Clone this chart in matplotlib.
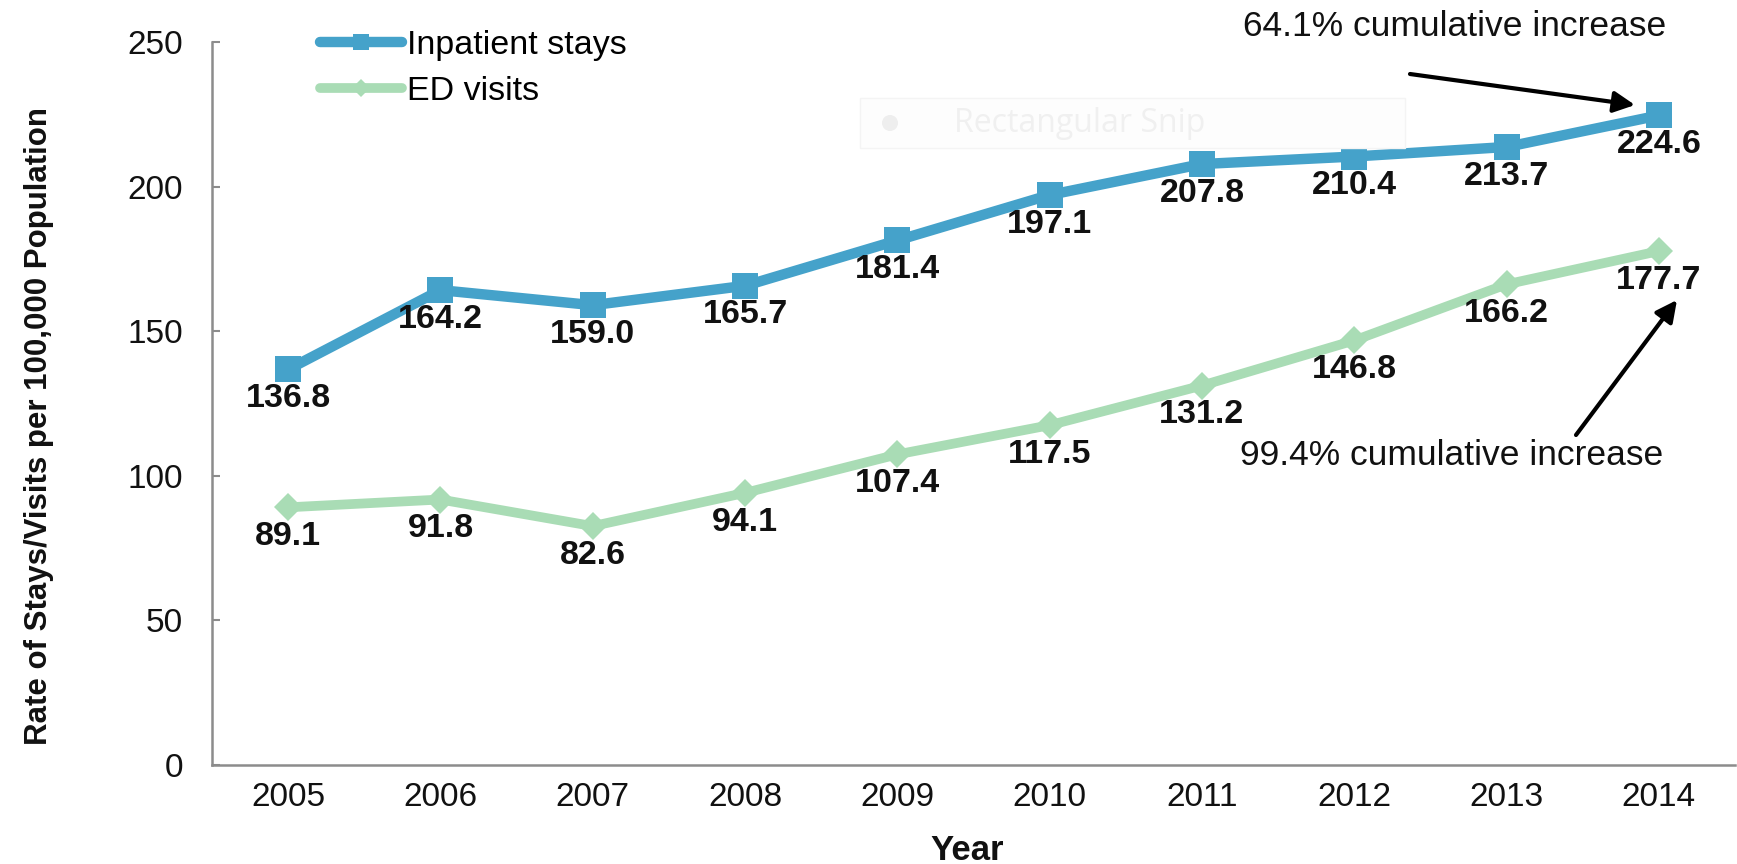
import matplotlib
matplotlib.use("Agg")
import matplotlib.pyplot as plt
from matplotlib.patches import Rectangle, Circle
from matplotlib.lines import Line2D

# data
years = [2005, 2006, 2007, 2008, 2009, 2010, 2011, 2012, 2013, 2014]
inpatient = [136.8, 164.2, 159.0, 165.7, 181.4, 197.1, 207.8, 210.4, 213.7, 224.6]
ed_visits = [89.1, 91.8, 82.6, 94.1, 107.4, 117.5, 131.2, 146.8, 166.2, 177.7]
y_ticks = [0, 50, 100, 150, 200, 250]

blue = '#45A2CA'
green = '#A9DCB5'

plt.rcParams['font.family'] = ['Liberation Sans', 'DejaVu Sans']

W, H = 1737, 864
fig = plt.figure(figsize=(W / 100, H / 100), dpi=100)
ax = fig.add_axes([212 / W, 1 - 765 / H, 1523 / W, 723 / H])

ax.plot(years, inpatient, color=blue, lw=7.5, marker='s', ms=19, mew=0,
        solid_capstyle='round', zorder=3)
ax.plot(years, ed_visits, color=green, lw=7, marker='D', ms=14.5, mew=0,
        solid_capstyle='round', zorder=3)

# data labels under each point
for x, v in zip(years, inpatient):
    ax.annotate(f'{v:.1f}', (x, v), xytext=(0, -21), textcoords='offset points',
                ha='center', va='center', fontsize=24.5, fontweight='bold', color='#111111')
for x, v in zip(years, ed_visits):
    ax.annotate(f'{v:.1f}', (x, v), xytext=(0, -21), textcoords='offset points',
                ha='center', va='center', fontsize=24.5, fontweight='bold', color='#111111')

ax.set_xlim(2004.5, 2014.5)
ax.set_ylim(0, 250)
ax.set_xticks(years)
ax.set_yticks(y_ticks)
ax.tick_params(axis='x', length=0, pad=12, labelsize=24, labelcolor='#111111')
ax.tick_params(axis='y', direction='in', length=6, width=1.5, color='#8c8c8c',
               pad=21, labelsize=24, labelcolor='#111111')
for s in ['top', 'right']:
    ax.spines[s].set_visible(False)
for s in ['left', 'bottom']:
    ax.spines[s].set_color('#8c8c8c')
    ax.spines[s].set_linewidth(1.8)

# legend with thick lines and small markers
h1 = Line2D([], [], color=blue, lw=7.5, marker='s', ms=11, mew=0, solid_capstyle='round')
h2 = Line2D([], [], color=green, lw=7, marker='D', ms=9, mew=0, solid_capstyle='round')
fig.legend([h1, h2], ['Inpatient stays', 'ED visits'], loc='upper left',
           bbox_to_anchor=(320 / W, 1 - 30 / H), frameon=False, fontsize=24.5,
           handlelength=2.4, handletextpad=0.15, labelspacing=0.45, borderpad=0,
           borderaxespad=0)

# faint screenshot-tool overlay left in the original image
fig.patches.append(Rectangle((860 / W, 1 - 148 / H), 545 / W, 50 / H, transform=fig.transFigure,
                             facecolor='#fdfdfd', edgecolor='#f4f4f4', lw=1, zorder=0))
fig.patches.append(Circle((8.9, (H - 123) / 100), 0.08, transform=fig.dpi_scale_trans,
                          facecolor='#eeeeee', edgecolor='none', zorder=0))
fig.add_artist(Line2D([925 / W, 925 / W], [1 - 146 / H, 1 - 100 / H], color='#f4f4f4', lw=1,
                      transform=fig.transFigure, zorder=0))
fig.text(954 / W, 1 - 124 / H, 'Rectangular Snip', fontsize=23, color='#f0f0f0',
         ha='left', va='center', family=['Open Sans', 'DejaVu Sans'], zorder=0)

# cumulative increase callouts
fig.text(1243 / W, 1 - 36 / H, '64.1% cumulative increase', fontsize=25.5,
         ha='left', va='baseline', color='#111111')
ax.annotate('', xy=(1635 / W, 1 - 105 / H), xycoords='figure fraction',
            xytext=(1410 / W, 1 - 74 / H), textcoords='figure fraction',
            arrowprops=dict(arrowstyle='-|>', color='black', lw=3, mutation_scale=32,
                            shrinkA=0, shrinkB=0), annotation_clip=False)
fig.text(1240 / W, 1 - 465 / H, '99.4% cumulative increase', fontsize=25.5,
         ha='left', va='baseline', color='#111111')
ax.annotate('', xy=(1677 / W, 1 - 300 / H), xycoords='figure fraction',
            xytext=(1576 / W, 1 - 435 / H), textcoords='figure fraction',
            arrowprops=dict(arrowstyle='-|>', color='black', lw=3, mutation_scale=32,
                            shrinkA=0, shrinkB=0), annotation_clip=False)

fig.text(39 / W, 1 - 426 / H, 'Rate of Stays/Visits per 100,000 Population', rotation=90,
         fontsize=22.5, fontweight='bold', ha='center', va='center', color='#111111')
fig.text(967 / W, 1 - 860 / H, 'Year', fontsize=25, fontweight='bold',
         ha='center', va='baseline', color='#111111')

fig.savefig('out.png', dpi=100)
